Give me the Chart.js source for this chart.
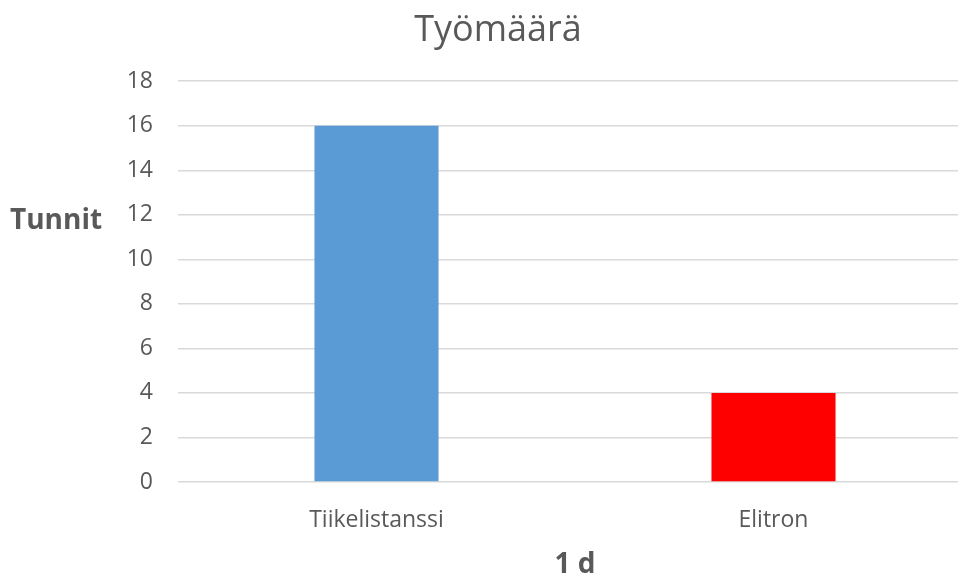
<!DOCTYPE html>
<html>
<head>
<meta charset="utf-8">
<script src="https://cdn.jsdelivr.net/npm/chart.js@4"></script>
<style>
  html, body { margin: 0; padding: 0; background: #fff; overflow: hidden; }
  #wrap { width: 972px; height: 575px; position: relative; }
</style>
</head>
<body>
<div id="wrap"><canvas id="c"></canvas></div>
<script>
const categories = ["Tiikelistanssi", "Elitron"];
const hours = [16, 4];
const barColors = ["#5b9bd5", "#ff0000"];
const chartTitle = "Työmäärä";
const yAxisTitle = "Tunnit";
const xAxisTitle = "1 d";

const FONT = "'Open Sans', 'Segoe UI', sans-serif";
const GRAY = "#595959";

const yTitlePlugin = {
  id: 'yTitle',
  afterDraw(chart) {
    const ctx = chart.ctx;
    ctx.save();
    ctx.font = "bold 28px " + FONT;
    ctx.fillStyle = GRAY;
    ctx.textAlign = "left";
    ctx.textBaseline = "middle";
    ctx.fillText(yAxisTitle, 10, 221);
    ctx.restore();
  }
};

new Chart(document.getElementById('c'), {
  type: 'bar',
  data: {
    labels: categories,
    datasets: [{
      data: hours,
      backgroundColor: barColors,
      borderWidth: 0,
      barPercentage: 0.3125,
      categoryPercentage: 1
    }]
  },
  plugins: [yTitlePlugin],
  options: {
    responsive: true,
    maintainAspectRatio: false,
    animation: false,
    layout: { padding: { top: 0, right: 0, bottom: 0, left: 24 } },
    plugins: {
      legend: { display: false },
      tooltip: { enabled: false },
      title: {
        display: true,
        text: chartTitle,
        color: GRAY,
        font: { family: FONT, size: 36, weight: 'normal', lineHeight: 1.2 },
        padding: { top: 9, bottom: 29 }
      }
    },
    scales: {
      x: {
        grid: { display: false },
        border: { display: false },
        ticks: { color: GRAY, font: { family: FONT, size: 23 }, padding: 17 },
        title: {
          display: true,
          text: xAxisTitle,
          color: GRAY,
          font: { family: FONT, size: 28, weight: 'bold', lineHeight: 0.7 },
          padding: { top: 10, bottom: 0 }
        },
        afterFit(scale) { scale.height = 93; }
      },
      y: {
        min: 0,
        max: 18,
        ticks: { stepSize: 2, color: GRAY, font: { family: FONT, size: 23 }, padding: 25 },
        grid: { color: "#d9d9d9", lineWidth: 1.5, drawTicks: false },
        border: { display: false },
        afterFit(scale) { scale.width = 154; }
      }
    }
  }
});
</script>
</body>
</html>
